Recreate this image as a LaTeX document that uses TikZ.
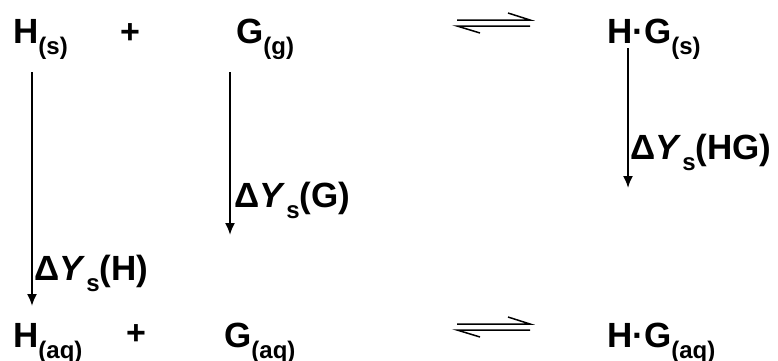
\documentclass[tikz,border=0pt]{standalone}
\usepackage{fontspec}
\setmainfont{Liberation Sans}
\usetikzlibrary{arrows.meta}
\newcommand{\mysub}[1]{\raisebox{-11pt}{\fontsize{24}{24}\selectfont #1}}
\newcommand{\dY}[1]{Δ\textit{Y}\kern1pt\mysub{s}(#1)}
\begin{document}
\begin{tikzpicture}[x=1pt,y=1pt,
  chem/.style={anchor=base west,inner sep=0pt,font=\fontsize{35}{35}\selectfont\bfseries},
  plus/.style={anchor=center,inner sep=0pt,font=\fontsize{34}{34}\selectfont\bfseries},
  down/.style={line width=1.9pt,-{Latex[length=12pt,width=10pt]}},
  eq/.style={line width=1.5pt}]
\useasboundingbox (0,0) rectangle (778,-360);
% top row
\node[chem] (Hs) at (13,-43) {H\mysub{(s)}};
\node[plus] (p1) at (130,-34) {+};
\node[chem] (Gg) at (236,-43) {G\mysub{(g)}};
\node[chem] (HGs) at (607,-43) {H·G\mysub{(s)}};
% bottom row
\node[chem] (Haq) at (13,-347) {H\mysub{(aq)}};
\node[plus] (p2) at (136,-335) {+};
\node[chem] (Gaq) at (224,-347) {G\mysub{(aq)}};
\node[chem] (HGaq) at (607,-347) {H·G\mysub{(aq)}};
% labels
\node[chem] (LH) at (34,-280) {\dY{H}};
\node[chem] (LG) at (234,-207) {\dY{G}};
\node[chem] (LHG) at (630,-159) {\dY{HG}};
% vertical arrows
\coordinate (aH1) at (32,-72);  \coordinate (aH2) at (32,-306);
\coordinate (aG1) at (230,-72); \coordinate (aG2) at (230,-235);
\coordinate (aHG1) at (628,-48); \coordinate (aHG2) at (628,-188);
\draw[down] (aH1) -- (aH2);
\draw[down] (aG1) -- (aG2);
\draw[down] (aHG1) -- (aHG2);
% equilibrium arrows
\coordinate (e1a) at (457,-20); \coordinate (e1b) at (530,-20); \coordinate (e1c) at (508,-13);
\coordinate (e1d) at (457,-26); \coordinate (e1e) at (530,-26); \coordinate (e1f) at (480,-33);
\draw[eq] (e1a) -- (e1b) -- (e1c);
\draw[eq] (e1e) -- (e1d) -- (e1f);
\coordinate (e2a) at (457,-324); \coordinate (e2b) at (530,-324); \coordinate (e2c) at (508,-317);
\coordinate (e2d) at (457,-330); \coordinate (e2e) at (530,-330); \coordinate (e2f) at (480,-337);
\draw[eq] (e2a) -- (e2b) -- (e2c);
\draw[eq] (e2e) -- (e2d) -- (e2f);
\end{tikzpicture}
\end{document}
